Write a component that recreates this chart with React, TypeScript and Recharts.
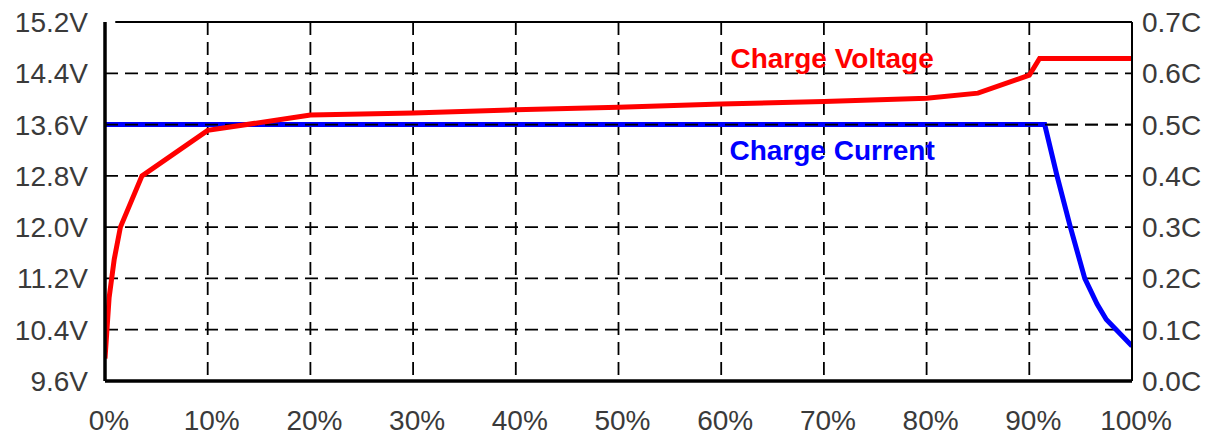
import {
  ComposedChart,
  Line,
  XAxis,
  YAxis,
  CartesianGrid,
  ReferenceLine,
  ReferenceDot,
} from 'recharts';

// state of charge (%) and voltage (V)
const voltageX = [0, 0.4, 0.9, 1.5, 3.6, 10, 20, 30, 40, 50, 60, 70, 80, 85, 90, 91, 100];
const voltageV = [9.95, 10.9, 11.5, 12.0, 12.8, 13.51, 13.75, 13.78, 13.83, 13.87, 13.92, 13.96, 14.01, 14.09, 14.37, 14.63, 14.63];

// state of charge (%) and current (C)
const currentX = [0, 91.5, 92.7, 94, 95.4, 96.6, 97.5, 100];
const currentC = [0.5, 0.5, 0.4, 0.3, 0.2, 0.15, 0.12, 0.068];

const xTicks = [0, 10, 20, 30, 40, 50, 60, 70, 80, 90, 100];
const voltTicks = [9.6, 10.4, 11.2, 12.0, 12.8, 13.6, 14.4, 15.2];
const currTicks = [0, 0.1, 0.2, 0.3, 0.4, 0.5, 0.6, 0.7];

const voltageData = voltageX.map((x, i) => ({ x, v: voltageV[i] }));
const currentData = currentX.map((x, i) => ({ x, c: currentC[i] }));

const font = '"Liberation Sans", Arial, sans-serif';
const tickStyle = { fill: '#3a3a3a', fontSize: 28, fontFamily: font };
const dash = '13 7';

export default function App() {
  return (
    <div style={{ position: 'absolute', left: 0, top: 0, background: '#fff' }}>
      <ComposedChart
        width={1219}
        height={443}
        margin={{ top: 22, right: 0, bottom: 0, left: 0 }}
        style={{ fontFamily: font }}
      >
        <CartesianGrid
          yAxisId="v"
          stroke="#000"
          strokeWidth={1.8}
          strokeDasharray={dash}
          verticalValues={xTicks.slice(1, -1)}
          horizontalValues={voltTicks.slice(1, -1)}
        />
        <XAxis
          type="number"
          dataKey="x"
          domain={[0, 100]}
          ticks={xTicks}
          tickFormatter={(v: number) => `${v}%`}
          height={62}
          tickLine={false}
          tickMargin={23}
          axisLine={{ stroke: '#000', strokeWidth: 3.5 }}
          tick={{ ...tickStyle, dx: 4 }}
          allowDataOverflow
        />
        <YAxis
          yAxisId="v"
          type="number"
          domain={[9.6, 15.2]}
          ticks={voltTicks}
          tickFormatter={(v: number) => `${v.toFixed(1)}V`}
          width={105}
          tickLine={false}
          tickMargin={11}
          axisLine={{ stroke: '#000', strokeWidth: 3.5 }}
          tick={tickStyle}
          allowDataOverflow
        />
        <YAxis
          yAxisId="c"
          orientation="right"
          type="number"
          domain={[0, 0.7]}
          ticks={currTicks}
          tickFormatter={(v: number) => `${v.toFixed(1)}C`}
          width={87}
          tickLine={false}
          tickMargin={4}
          axisLine={{ stroke: '#000', strokeWidth: 2 }}
          tick={tickStyle}
          allowDataOverflow
        />
        <ReferenceLine
          yAxisId="v"
          segment={[{ x: 1, y: 15.2 }, { x: 100, y: 15.2 }]}
          stroke="#000"
          strokeWidth={2}
        />
        <Line
          yAxisId="c"
          data={currentData}
          dataKey="c"
          type="linear"
          stroke="#0000ff"
          strokeWidth={5}
          dot={false}
          isAnimationActive={false}
        />
        <ReferenceLine
          yAxisId="v"
          y={13.6}
          stroke="#000"
          strokeWidth={1.8}
          strokeDasharray={dash}
        />
        <Line
          yAxisId="v"
          data={voltageData}
          dataKey="v"
          type="linear"
          stroke="#ff0000"
          strokeWidth={5}
          dot={false}
          isAnimationActive={false}
        />
        <ReferenceDot
          yAxisId="v"
          x={70.8}
          y={14.64}
          r={0}
          stroke="none"
          fill="none"
          label={{ value: 'Charge Voltage', position: 'center', fill: '#ff0000', fontSize: 28, fontWeight: 700, fontFamily: font }}
        />
        <ReferenceDot
          yAxisId="v"
          x={70.8}
          y={13.2}
          r={0}
          stroke="none"
          fill="none"
          label={{ value: 'Charge Current', position: 'center', fill: '#0000ff', fontSize: 28, fontWeight: 700, fontFamily: font }}
        />
      </ComposedChart>
    </div>
  );
}
